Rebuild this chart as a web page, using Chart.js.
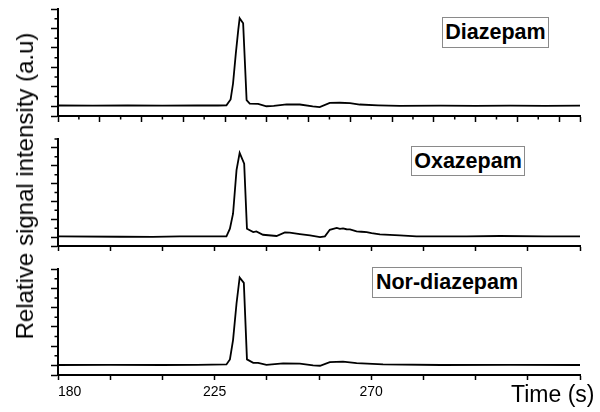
<!DOCTYPE html>
<html>
<head>
<meta charset="utf-8">
<script src="https://cdn.jsdelivr.net/npm/chart.js@4"></script>
<style>
  body { margin: 0; background: #fff; }
  #wrap { position: relative; width: 600px; height: 412px; overflow: hidden; font-family: "Liberation Sans", Arial, sans-serif; color: #000; }
  #wrap canvas { position: absolute; left: 0; }
  .tag { position: absolute; background: #fff; border: 1px solid #8a8a8a; font-weight: bold; font-size: 21.5px; text-align: center; box-sizing: border-box; white-space: nowrap; }
  #ytitle { position: absolute; left: 25px; top: 186px; font-size: 24px; white-space: nowrap; transform: translate(-50%, -50%) rotate(-90deg); }
  #xtitle { position: absolute; left: 511px; top: 381px; font-size: 23px; white-space: nowrap; }
</style>
</head>
<body>
<div id="wrap">
  <canvas id="c1"></canvas>
  <canvas id="c2"></canvas>
  <canvas id="c3"></canvas>
  <div class="tag" style="left:442px;top:17px;width:107px;height:31px;line-height:29px;">Diazepam</div>
  <div class="tag" style="left:411px;top:146px;width:114px;height:30px;line-height:28px;">Oxazepam</div>
  <div class="tag" style="left:372px;top:267px;width:150px;height:31px;line-height:29px;">Nor-diazepam</div>
  <div id="ytitle">Relative signal intensity (a.u)</div>
  <div id="xtitle">Time (s)</div>
</div>
<script>
// retention time (s) and signal for each compound
const diazTime = [180, 190, 200, 210, 220, 226, 228.4, 229.6, 230.3, 231.1, 231.8, 232.2, 233.2, 234.2, 235.1, 237.5, 239.9, 242, 245.7, 249.5, 253.2, 255.2, 258.1, 261, 263.9, 266.7, 272, 278.2, 290, 300, 310, 320, 330];
const diazVal  = [0.04, 0.03, 0.04, 0.03, 0.04, 0.04, 0.05, 0.35, 1.17, 2.72, 3.93, 4.53, 4.27, 0.31, 0.14, 0.12, 0.0, 0.02, 0.10, 0.09, 0.0, -0.04, 0.17, 0.18, 0.16, 0.09, 0.05, 0.02, 0.03, 0.02, 0.03, 0.02, 0.03];

const oxaTime = [180, 197.8, 207.2, 215, 228.4, 229.4, 230.3, 231.3, 232.2, 233.5, 234.3, 236.1, 237.0, 238.9, 242.8, 245.2, 246.6, 249.5, 252.4, 255.3, 256.7, 258.1, 260.1, 261.0, 261.9, 262.9, 263.9, 265.8, 267.2, 268.7, 270.1, 272.5, 278.2, 283.0, 297.4, 307, 320, 330];
const oxaVal  = [0.04, 0.02, 0.01, 0.04, 0.04, 0.47, 1.31, 3.75, 4.72, 4.12, 0.47, 0.28, 0.32, 0.13, 0.06, 0.26, 0.25, 0.17, 0.10, 0.0, 0.04, 0.41, 0.51, 0.46, 0.49, 0.44, 0.43, 0.32, 0.30, 0.28, 0.22, 0.15, 0.10, 0.04, 0.04, 0.06, 0.04, 0.04];

const norTime = [180, 195, 210, 220, 228.4, 229.4, 230.3, 231.3, 232.2, 233.4, 234.3, 236.1, 237.5, 239.9, 244.7, 249.5, 253.3, 255.3, 258.1, 261.9, 265.8, 273.4, 290, 310, 330];
const norVal  = [0.02, 0.03, 0.02, 0.03, 0.05, 0.31, 1.31, 3.21, 4.56, 4.28, 0.31, 0.13, 0.13, 0.03, 0.10, 0.09, 0.0, -0.02, 0.17, 0.19, 0.12, 0.05, 0.02, 0.03, 0.02];

// axis ticks
const xTicksTop   = [180, 192, 204, 216, 228, 240, 252, 264, 276, 288, 300, 312, 324, 330];
const xMinorTop   = [186, 198, 210, 222, 234, 246, 258, 270, 282, 294, 306, 318];
const xTicksLower = [180, 195, 210, 225, 240, 255, 270, 285, 300, 315, 330];
const xLabels     = [180, 225, 270];
const yTicks      = [-0.5, 0, 1, 2, 3, 4, 5];
const yMinor      = [0.5, 1.5, 2.5, 3.5, 4.5];
const yMinorTall  = [0.5, 1.5, 2.5, 3.5, 4.5, 5.5];

const FONT = '"Liberation Sans", Arial, sans-serif';
const PAD_TOP = 6, X_AXIS_H = 34, Y_AXIS_W = 58;

// short ticks between the major ones
const minorTicks = {
  id: 'minorTicks',
  afterDraw(chart, args, o) {
    const { ctx, chartArea: a, scales: { x, y } } = chart;
    ctx.save();
    ctx.strokeStyle = '#000';
    ctx.lineWidth = 1.5;
    ctx.beginPath();
    (o.x || []).forEach(v => {
      const px = x.getPixelForValue(v);
      ctx.moveTo(px, a.bottom);
      ctx.lineTo(px, a.bottom + o.len);
    });
    (o.y || []).forEach(v => {
      const py = y.getPixelForValue(v);
      ctx.moveTo(a.left, py);
      ctx.lineTo(a.left - o.len, py);
    });
    ctx.stroke();
    ctx.restore();
  }
};

function makePanel(id, top, bottom, times, vals, cfg) {
  const cv = document.getElementById(id);
  cv.width = 600;
  cv.height = bottom - top + PAD_TOP + X_AXIS_H;
  cv.style.top = (top - PAD_TOP) + 'px';

  return new Chart(cv, {
    type: 'line',
    data: {
      datasets: [{
        data: times.map((t, i) => ({ x: t, y: vals[i] })),
        borderColor: '#000',
        borderWidth: 1.8,
        pointRadius: 0,
        tension: 0,
        fill: false
      }]
    },
    options: {
      responsive: false,
      animation: false,
      layout: { padding: { top: PAD_TOP, right: 20, bottom: 0, left: 0 } },
      plugins: {
        legend: { display: false },
        tooltip: { enabled: false },
        minorTicks: { x: cfg.xMinor, y: cfg.yMinor, len: 3.5 }
      },
      scales: {
        x: {
          type: 'linear', min: 180, max: 330,
          afterBuildTicks: s => { s.ticks = cfg.xTicks.map(v => ({ value: v })); },
          afterFit: s => { s.height = X_AXIS_H; },
          grid: { drawOnChartArea: false, drawTicks: true, tickLength: cfg.xTickLen, tickColor: '#000', tickWidth: 1.5 },
          border: { display: true, color: '#000', width: 2 },
          ticks: {
            display: cfg.labels, autoSkip: false, maxRotation: 0, align: 'inner', padding: 4,
            color: '#000', font: { family: FONT, size: 14 },
            callback: v => xLabels.includes(v) ? String(v) : ''
          }
        },
        y: {
          type: 'linear', min: -0.5, max: cfg.yMax,
          afterBuildTicks: s => { s.ticks = yTicks.map(v => ({ value: v })); },
          afterFit: s => { s.width = Y_AXIS_W; },
          grid: { drawOnChartArea: false, drawTicks: true, tickLength: 7, tickColor: '#000', tickWidth: 1.5 },
          border: { display: true, color: '#000', width: 2 },
          ticks: { display: false }
        }
      }
    },
    plugins: [minorTicks]
  });
}

makePanel('c1', 9, 116, diazTime, diazVal,
  { xTicks: xTicksTop, xMinor: xMinorTop, xTickLen: 6, yMax: 5, yMinor: yMinor, labels: false });
makePanel('c2', 139, 246, oxaTime, oxaVal,
  { xTicks: xTicksLower, xMinor: [], xTickLen: 5, yMax: 5.5, yMinor: yMinorTall, labels: false });
makePanel('c3', 269, 375, norTime, norVal,
  { xTicks: xTicksLower, xMinor: [], xTickLen: 5, yMax: 5, yMinor: yMinor, labels: true });
</script>
</body>
</html>
